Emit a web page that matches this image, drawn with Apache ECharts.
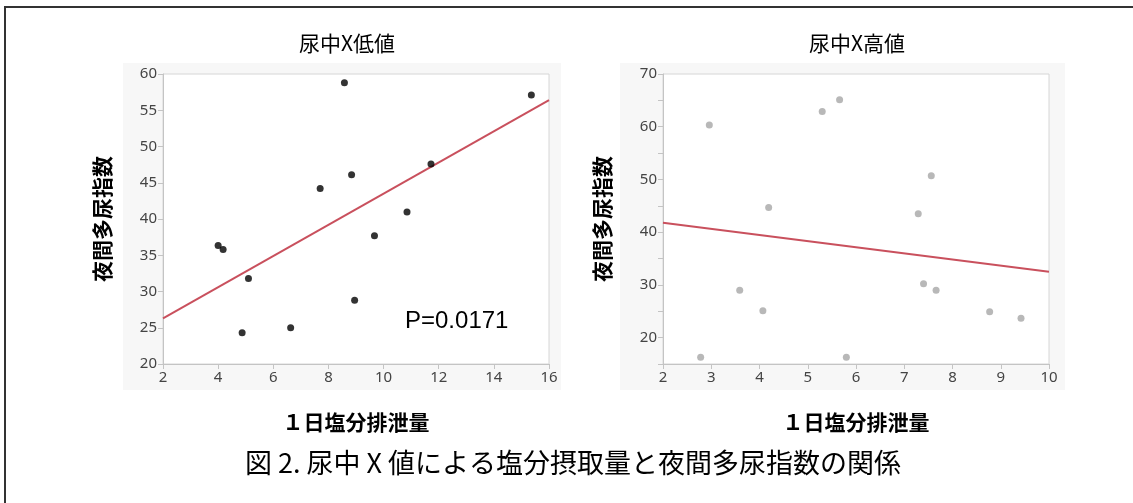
<!DOCTYPE html>
<html><head><meta charset="utf-8">
<script src="https://cdn.jsdelivr.net/npm/echarts@6/dist/echarts.min.js"></script>
<style>html,body{margin:0;padding:0;background:#fff}#c{width:1133px;height:503px}</style>
</head><body><div id="c"></div>
<script>
// Left panel: 尿中X低値
const lowX = [4.0, 4.18, 4.87, 5.10, 6.63, 7.70, 8.58, 8.84, 8.95, 9.67, 10.85, 11.72, 15.36];
const lowY = [36.35, 35.8, 24.3, 31.8, 25.0, 44.2, 58.8, 46.1, 28.8, 37.7, 40.95, 47.6, 57.1];
const lowFitX = [2, 16];
const lowFitY = [26.3, 56.4];
// Right panel: 尿中X高値
const highX = [2.78, 2.96, 3.59, 4.07, 4.19, 5.30, 5.66, 5.80, 7.29, 7.40, 7.56, 7.66, 8.77, 9.42];
const highY = [16.3, 60.35, 29.0, 25.1, 44.7, 62.9, 65.1, 16.3, 43.5, 30.2, 50.7, 29.0, 24.9, 23.7];
const highFitX = [2, 10];
const highFitY = [41.8, 32.5];

const titles = ['尿中X低値', '尿中X高値'];
const xName = '１日塩分排泄量';
const yName = '夜間多尿指数';
const pText = 'P=0.0171';
const caption = '図 2. 尿中 X 値による塩分摂取量と夜間多尿指数の関係';

const zip = (a, b) => a.map((v, i) => [v, b[i]]);
const CJK = '"Noto Sans CJK JP", "Noto Sans", sans-serif';
const tickFont = '"Noto Sans", "Open Sans", sans-serif';

const axisCommon = {
  type: 'value',
  axisLine: {show: true, lineStyle: {color: '#c4c4c4', width: 1}},
  axisTick: {show: true, length: 5, lineStyle: {color: '#c4c4c4'}},
  splitLine: {show: false},
  axisLabel: {color: '#444', fontSize: 15, fontFamily: tickFont, margin: 6},
  nameTextStyle: {color: '#000', fontSize: 21, fontWeight: 'bold', fontFamily: CJK},
  nameLocation: 'middle'
};

const chart = echarts.init(document.getElementById('c'));
chart.setOption({
  animation: false,
  backgroundColor: '#fff',
  title: [
    {text: titles[0], left: 342, top: 28, textAlign: 'center',
     textStyle: {fontSize: 21, fontWeight: 'normal', color: '#000', fontFamily: CJK}},
    {text: titles[1], left: 852, top: 28, textAlign: 'center',
     textStyle: {fontSize: 21, fontWeight: 'normal', color: '#000', fontFamily: CJK}}
  ],
  graphic: [
    {type: 'rect', shape: {x: 5, y: 7, width: 1140, height: 510}, style: {fill: 'none', stroke: '#333', lineWidth: 2}, z: 0},
    {type: 'rect', shape: {x: 123, y: 63, width: 438, height: 327}, style: {fill: '#f7f7f7'}, z: -10, silent: true},
    {type: 'rect', shape: {x: 620, y: 63, width: 445, height: 327}, style: {fill: '#f7f7f7'}, z: -10, silent: true},
    {type: 'text', left: 405, top: 309, z: 100,
     style: {text: pText, fontSize: 24, fill: '#000', fontFamily: '"Liberation Sans", Arial, sans-serif'}},
    {type: 'text', x: 573, y: 463, z: 100,
     style: {text: caption, fontSize: 27, fill: '#000', fontFamily: CJK, align: 'center', verticalAlign: 'middle'}}
  ],
  grid: [
    {left: 163, top: 74, width: 386, height: 290, show: true, backgroundColor: '#fff', borderColor: '#d6d6d6', borderWidth: 1},
    {left: 663, top: 74, width: 386, height: 290, show: true, backgroundColor: '#fff', borderColor: '#d6d6d6', borderWidth: 1}
  ],
  xAxis: [
    Object.assign({}, axisCommon, {gridIndex: 0, min: 2, max: 16, interval: 2, name: xName, nameGap: 48}),
    Object.assign({}, axisCommon, {gridIndex: 1, min: 2, max: 10, interval: 1, name: xName, nameGap: 48})
  ],
  yAxis: [
    Object.assign({}, axisCommon, {gridIndex: 0, min: 20, max: 60, interval: 5, name: yName, nameGap: 50}),
    Object.assign({}, axisCommon, {gridIndex: 1, min: 15, max: 70, interval: 5, name: yName, nameGap: 50,
      axisLabel: Object.assign({}, axisCommon.axisLabel, {formatter: v => (v % 10 === 0 ? String(v) : '')})})
  ],
  series: [
    {type: 'scatter', xAxisIndex: 0, yAxisIndex: 0, data: zip(lowX, lowY), symbolSize: 7,
     itemStyle: {color: '#000'}, z: 3},
    {type: 'line', xAxisIndex: 0, yAxisIndex: 0, data: zip(lowFitX, lowFitY), showSymbol: false, symbol: 'none',
     lineStyle: {color: '#c9505d', width: 2}, z: 2},
    {type: 'scatter', xAxisIndex: 1, yAxisIndex: 1, data: zip(highX, highY), symbolSize: 7,
     itemStyle: {color: '#a6a6a6'}, z: 3},
    {type: 'line', xAxisIndex: 1, yAxisIndex: 1, data: zip(highFitX, highFitY), showSymbol: false, symbol: 'none',
     lineStyle: {color: '#c9505d', width: 2}, z: 2}
  ]
});
</script></body></html>
